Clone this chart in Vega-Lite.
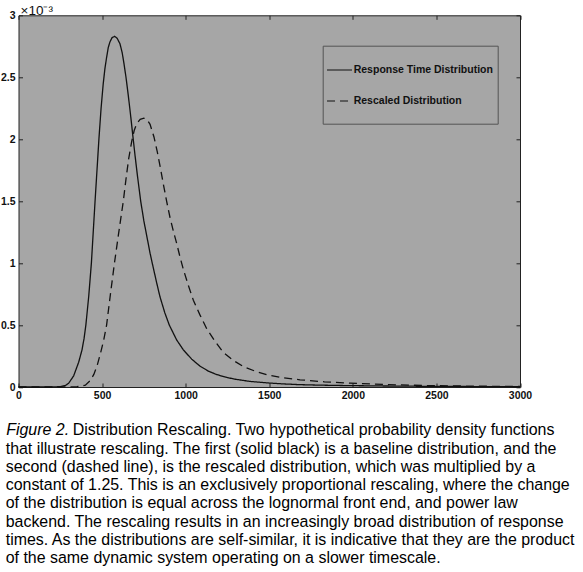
{
  "$schema": "https://vega.github.io/schema/vega-lite/v6.json",
  "autosize": "none",
  "width": 501.5,
  "height": 371.7,
  "padding": {"left": 18.5, "top": 15.3, "right": 63, "bottom": 185},
  "background": "white",
  "config": {
    "view": {"stroke": "#222", "strokeWidth": 1, "fill": "#a6a6a6"},
    "font": "Liberation Sans",
    "axis": {
      "domain": false,
      "grid": false,
      "tickColor": "#222",
      "tickSize": -4,
      "labelFont": "Liberation Sans",
      "labelFontSize": 10.5,
      "labelFontWeight": "bold",
      "labelColor": "#111"
    }
  },
  "title": {
    "text": [
      "that illustrate rescaling. The first (solid black) is a baseline distribution, and the",
      "second (dashed line), is the rescaled distribution, which was multiplied by a",
      "constant of 1.25. This is an exclusively proportional rescaling, where the change",
      "of the distribution is equal across the lognormal front end, and power law",
      "backend. The rescaling results in an increasingly broad distribution of response",
      "times. As the distributions are self-similar, it is indicative that they are the product",
      "of the same dynamic system operating on a slower timescale."
    ],
    "orient": "bottom",
    "anchor": "start",
    "frame": "group",
    "align": "left",
    "baseline": "alphabetic",
    "font": "Liberation Sans",
    "fontSize": 15.95,
    "fontWeight": "normal",
    "color": "#000",
    "lineHeight": 18.3,
    "offset": 16.3,
    "dx": -12.8
  },
  "data": {
    "values": [
      {"series": "Response Time Distribution", "t": 0, "d": 0},
      {"series": "Response Time Distribution", "t": 100, "d": 0},
      {"series": "Response Time Distribution", "t": 200, "d": 0},
      {"series": "Response Time Distribution", "t": 250, "d": 0.003},
      {"series": "Response Time Distribution", "t": 280, "d": 0.012},
      {"series": "Response Time Distribution", "t": 300, "d": 0.03},
      {"series": "Response Time Distribution", "t": 330, "d": 0.09},
      {"series": "Response Time Distribution", "t": 360, "d": 0.2},
      {"series": "Response Time Distribution", "t": 380, "d": 0.3},
      {"series": "Response Time Distribution", "t": 392, "d": 0.39},
      {"series": "Response Time Distribution", "t": 403, "d": 0.5},
      {"series": "Response Time Distribution", "t": 420, "d": 0.73},
      {"series": "Response Time Distribution", "t": 436, "d": 1.0},
      {"series": "Response Time Distribution", "t": 447, "d": 1.25},
      {"series": "Response Time Distribution", "t": 458, "d": 1.5},
      {"series": "Response Time Distribution", "t": 470, "d": 1.76},
      {"series": "Response Time Distribution", "t": 481, "d": 2.0},
      {"series": "Response Time Distribution", "t": 494, "d": 2.25},
      {"series": "Response Time Distribution", "t": 507, "d": 2.45},
      {"series": "Response Time Distribution", "t": 517, "d": 2.57},
      {"series": "Response Time Distribution", "t": 527, "d": 2.66},
      {"series": "Response Time Distribution", "t": 537, "d": 2.74},
      {"series": "Response Time Distribution", "t": 547, "d": 2.785},
      {"series": "Response Time Distribution", "t": 560, "d": 2.82},
      {"series": "Response Time Distribution", "t": 575, "d": 2.83},
      {"series": "Response Time Distribution", "t": 590, "d": 2.815},
      {"series": "Response Time Distribution", "t": 607, "d": 2.77},
      {"series": "Response Time Distribution", "t": 620, "d": 2.7},
      {"series": "Response Time Distribution", "t": 631, "d": 2.61},
      {"series": "Response Time Distribution", "t": 643, "d": 2.5},
      {"series": "Response Time Distribution", "t": 657, "d": 2.35},
      {"series": "Response Time Distribution", "t": 670, "d": 2.2},
      {"series": "Response Time Distribution", "t": 683, "d": 2.04},
      {"series": "Response Time Distribution", "t": 697, "d": 1.87},
      {"series": "Response Time Distribution", "t": 712, "d": 1.7},
      {"series": "Response Time Distribution", "t": 731, "d": 1.5},
      {"series": "Response Time Distribution", "t": 750, "d": 1.34},
      {"series": "Response Time Distribution", "t": 770, "d": 1.2},
      {"series": "Response Time Distribution", "t": 787, "d": 1.08},
      {"series": "Response Time Distribution", "t": 805, "d": 0.97},
      {"series": "Response Time Distribution", "t": 825, "d": 0.85},
      {"series": "Response Time Distribution", "t": 846, "d": 0.73},
      {"series": "Response Time Distribution", "t": 875, "d": 0.6},
      {"series": "Response Time Distribution", "t": 902, "d": 0.5},
      {"series": "Response Time Distribution", "t": 946, "d": 0.38},
      {"series": "Response Time Distribution", "t": 986, "d": 0.3},
      {"series": "Response Time Distribution", "t": 1036, "d": 0.225},
      {"series": "Response Time Distribution", "t": 1086, "d": 0.168},
      {"series": "Response Time Distribution", "t": 1136, "d": 0.128},
      {"series": "Response Time Distribution", "t": 1186, "d": 0.1},
      {"series": "Response Time Distribution", "t": 1250, "d": 0.076},
      {"series": "Response Time Distribution", "t": 1300, "d": 0.062},
      {"series": "Response Time Distribution", "t": 1385, "d": 0.045},
      {"series": "Response Time Distribution", "t": 1500, "d": 0.032},
      {"series": "Response Time Distribution", "t": 1584, "d": 0.025},
      {"series": "Response Time Distribution", "t": 1683, "d": 0.019},
      {"series": "Response Time Distribution", "t": 1800, "d": 0.015},
      {"series": "Response Time Distribution", "t": 1983, "d": 0.011},
      {"series": "Response Time Distribution", "t": 2200, "d": 0.008},
      {"series": "Response Time Distribution", "t": 2500, "d": 0.005},
      {"series": "Response Time Distribution", "t": 2800, "d": 0.003},
      {"series": "Response Time Distribution", "t": 3000, "d": 0.002},
      {"series": "Rescaled Distribution", "t": 0, "d": 0},
      {"series": "Rescaled Distribution", "t": 200, "d": 0},
      {"series": "Rescaled Distribution", "t": 300, "d": 0},
      {"series": "Rescaled Distribution", "t": 350, "d": 0.002},
      {"series": "Rescaled Distribution", "t": 400, "d": 0.015},
      {"series": "Rescaled Distribution", "t": 428, "d": 0.05},
      {"series": "Rescaled Distribution", "t": 450, "d": 0.1},
      {"series": "Rescaled Distribution", "t": 470, "d": 0.17},
      {"series": "Rescaled Distribution", "t": 490, "d": 0.27},
      {"series": "Rescaled Distribution", "t": 510, "d": 0.38},
      {"series": "Rescaled Distribution", "t": 527, "d": 0.5},
      {"series": "Rescaled Distribution", "t": 550, "d": 0.75},
      {"series": "Rescaled Distribution", "t": 574, "d": 1.0},
      {"series": "Rescaled Distribution", "t": 600, "d": 1.25},
      {"series": "Rescaled Distribution", "t": 627, "d": 1.5},
      {"series": "Rescaled Distribution", "t": 645, "d": 1.7},
      {"series": "Rescaled Distribution", "t": 660, "d": 1.85},
      {"series": "Rescaled Distribution", "t": 677, "d": 1.98},
      {"series": "Rescaled Distribution", "t": 692, "d": 2.07},
      {"series": "Rescaled Distribution", "t": 707, "d": 2.125},
      {"series": "Rescaled Distribution", "t": 728, "d": 2.16},
      {"series": "Rescaled Distribution", "t": 750, "d": 2.17},
      {"series": "Rescaled Distribution", "t": 770, "d": 2.155},
      {"series": "Rescaled Distribution", "t": 787, "d": 2.12},
      {"series": "Rescaled Distribution", "t": 810, "d": 2.02},
      {"series": "Rescaled Distribution", "t": 830, "d": 1.9},
      {"series": "Rescaled Distribution", "t": 850, "d": 1.76},
      {"series": "Rescaled Distribution", "t": 866, "d": 1.64},
      {"series": "Rescaled Distribution", "t": 886, "d": 1.5},
      {"series": "Rescaled Distribution", "t": 906, "d": 1.37},
      {"series": "Rescaled Distribution", "t": 926, "d": 1.26},
      {"series": "Rescaled Distribution", "t": 946, "d": 1.16},
      {"series": "Rescaled Distribution", "t": 966, "d": 1.05},
      {"series": "Rescaled Distribution", "t": 986, "d": 0.95},
      {"series": "Rescaled Distribution", "t": 1016, "d": 0.82},
      {"series": "Rescaled Distribution", "t": 1046, "d": 0.7},
      {"series": "Rescaled Distribution", "t": 1086, "d": 0.58},
      {"series": "Rescaled Distribution", "t": 1126, "d": 0.47},
      {"series": "Rescaled Distribution", "t": 1175, "d": 0.37},
      {"series": "Rescaled Distribution", "t": 1225, "d": 0.28},
      {"series": "Rescaled Distribution", "t": 1285, "d": 0.215},
      {"series": "Rescaled Distribution", "t": 1345, "d": 0.165},
      {"series": "Rescaled Distribution", "t": 1415, "d": 0.128},
      {"series": "Rescaled Distribution", "t": 1485, "d": 0.1},
      {"series": "Rescaled Distribution", "t": 1580, "d": 0.075},
      {"series": "Rescaled Distribution", "t": 1684, "d": 0.058},
      {"series": "Rescaled Distribution", "t": 1830, "d": 0.042},
      {"series": "Rescaled Distribution", "t": 1983, "d": 0.031},
      {"series": "Rescaled Distribution", "t": 2130, "d": 0.023},
      {"series": "Rescaled Distribution", "t": 2282, "d": 0.017},
      {"series": "Rescaled Distribution", "t": 2430, "d": 0.012},
      {"series": "Rescaled Distribution", "t": 2581, "d": 0.009},
      {"series": "Rescaled Distribution", "t": 2800, "d": 0.006},
      {"series": "Rescaled Distribution", "t": 3000, "d": 0.004}
    ]
  },
  "layer": [
    {
      "mark": {"type": "line", "strokeWidth": 1.3, "color": "#111"},
      "encoding": {
        "x": {
          "field": "t",
          "type": "quantitative",
          "scale": {"domain": [0, 3000], "nice": false},
          "axis": {
            "orient": "bottom",
            "values": [0, 500, 1000, 1500, 2000, 2500, 3000],
            "format": "d",
            "labelPadding": 7,
            "labelFlush": false,
            "title": "Distribution Rescaling. Two hypothetical probability density functions",
            "titleFont": "Liberation Sans",
            "titleFontWeight": "normal",
            "titleFontSize": 15.95,
            "titleColor": "#000",
            "titleAlign": "left",
            "titleBaseline": "alphabetic",
            "titleAnchor": "start",
            "titleX": 53.8,
            "titleY": 47.3
          }
        },
        "y": {
          "field": "d",
          "type": "quantitative",
          "scale": {"domain": [0, 3], "nice": false},
          "axis": {
            "orient": "left",
            "values": [0, 0.5, 1, 1.5, 2, 2.5, 3],
            "format": "~g",
            "labelPadding": 7.5,
            "labelFlush": false,
            "title": "×10⁻³",
            "titleAngle": 0,
            "titleFont": "Liberation Sans",
            "titleFontWeight": "normal",
            "titleFontSize": 13.5,
            "titleColor": "#111",
            "titleAlign": "left",
            "titleBaseline": "alphabetic",
            "titleX": 1.5,
            "titleY": -1.3
          }
        },
        "strokeDash": {
          "field": "series",
          "type": "nominal",
          "scale": {
            "domain": ["Response Time Distribution", "Rescaled Distribution"],
            "range": [[1, 0], [8, 5]]
          },
          "legend": {
            "orient": "none",
            "legendX": 304.2,
            "legendY": 30.4,
            "title": null,
            "direction": "vertical",
            "symbolType": "M-1.03,0H0.258M0,0.433",
            "symbolSize": 1505,
            "symbolStrokeWidth": 1.2,
            "symbolStrokeColor": "#111",
            "labelFont": "Liberation Sans",
            "labelFontSize": 10.5,
            "labelFontWeight": "bold",
            "labelColor": "#111",
            "labelOffset": -13.3,
            "padding": 4.3,
            "rowPadding": 0,
            "strokeColor": "#555",
            "fillColor": "#a6a6a6",
            "cornerRadius": 0,
            "encode": {
              "symbols": {
                "update": {
                  "shape": [
                    {"test": "datum.index === 1", "value": "M-1.03,0H0.258M0,0.8"},
                    {"value": "M-1.03,0H0.258M0,0.433"}
                  ]
                }
              }
            }
          }
        }
      }
    },
    {
      "mark": {"type": "point", "opacity": 0},
      "encoding": {
        "x": {
          "field": "t",
          "type": "quantitative",
          "axis": {
            "orient": "top",
            "values": [0, 500, 1000, 1500, 2000, 2500, 3000],
            "labels": false,
            "title": null
          }
        },
        "y": {
          "field": "d",
          "type": "quantitative",
          "axis": {
            "orient": "right",
            "values": [0, 0.5, 1, 1.5, 2, 2.5, 3],
            "labels": false,
            "title": "Figure 2.",
            "titleAngle": 0,
            "titleFont": "Liberation Sans",
            "titleFontStyle": "italic",
            "titleFontWeight": "normal",
            "titleFontSize": 15.95,
            "titleColor": "#000",
            "titleAlign": "left",
            "titleBaseline": "alphabetic",
            "titleX": -514.3,
            "titleY": 419
          }
        }
      }
    }
  ],
  "resolve": {"axis": {"x": "independent", "y": "independent"}}
}
